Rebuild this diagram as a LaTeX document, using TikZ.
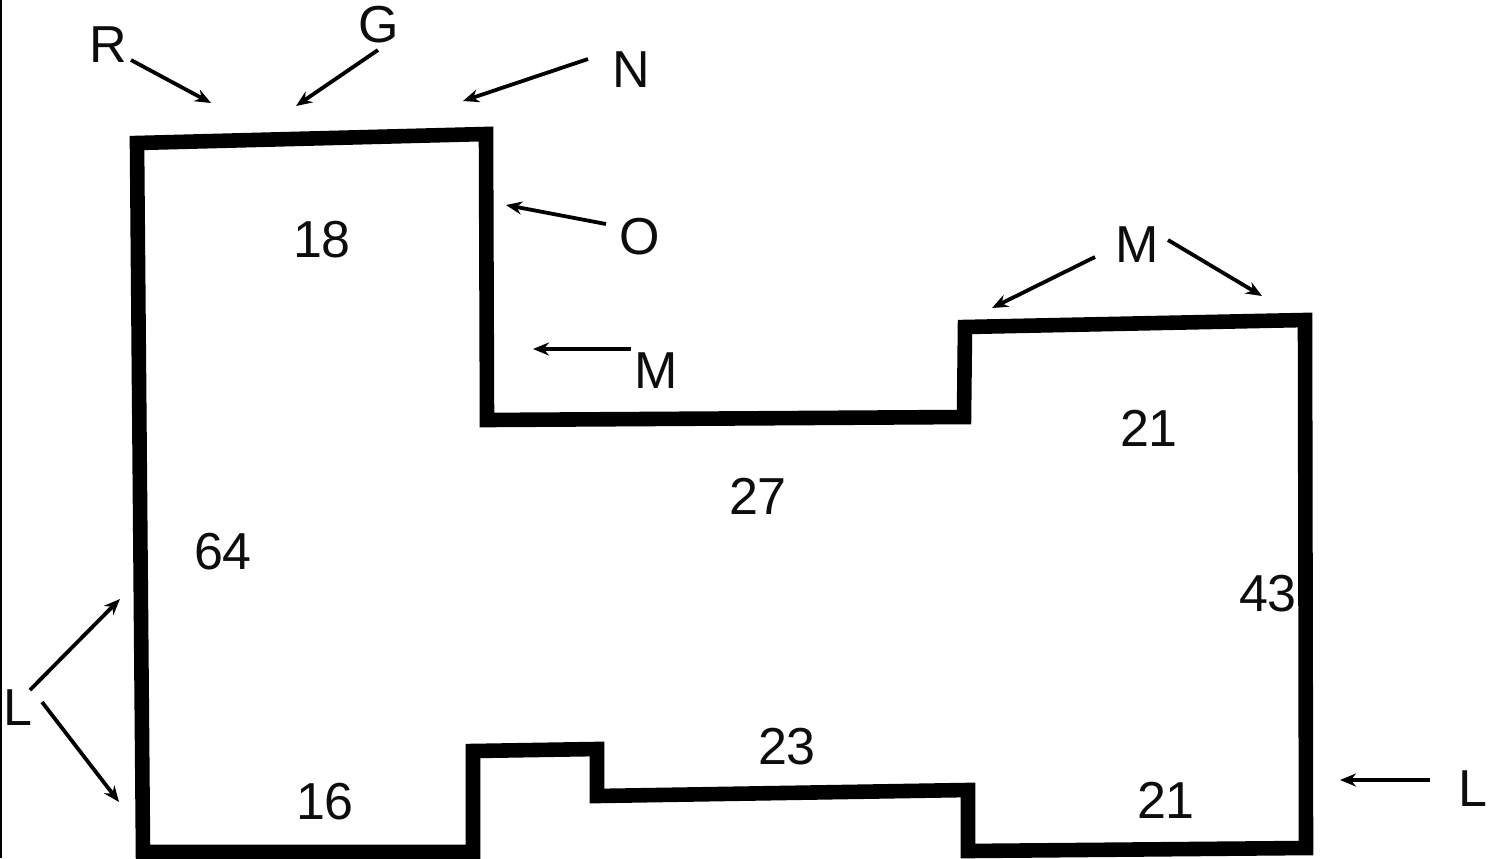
\documentclass[tikz,border=0pt]{standalone}
\usepackage{fontspec}
\setmainfont[FakeStretch=1.0]{Liberation Sans}
\usetikzlibrary{arrows.meta}
\tikzset{
  wall/.style={line width=7.3pt,line join=miter,miter limit=10},
  pointer/.style={line width=1.9pt,-{Stealth[length=8pt,width=6.5pt]}},
  lab/.style={font=\fontsize{26}{30}\selectfont,inner sep=0pt,text=black!95}
}
\begin{document}
\begin{tikzpicture}[x=0.5pt,y=-0.5pt]
\useasboundingbox (0,0) rectangle (1496,858);
\fill[white] (0,0) rectangle (1496,858);
\fill[black] (0,0) rectangle (2,858);
\draw[wall] (137,143) -- (486,134) -- (487,420) -- (964,417) -- (965,327) -- (1305,320) -- (1306,848) -- (968,851) -- (968,790) -- (597,796) -- (597,749) -- (473,751) -- (473,852) -- (143,852) -- cycle;
\node[lab] (R) at (108,45) {R};
\node[lab] (G) at (379,25) {G};
\node[lab] (N) at (631,70) {N};
\node[lab] (O) at (640,237) {O};
\node[lab] (M1) at (656,371) {M};
\node[lab] (M2) at (1137,245) {M};
\node[lab] (L1) at (18,708) {L};
\node[lab] (L2) at (1473,789) {L};
\node[lab] (a18) at (322,240) {18};
\node[lab] (a64) at (223,552) {64};
\node[lab] (a27) at (758,496) {27};
\node[lab] (a21) at (1149,428) {21};
\node[lab] (a43) at (1268,594) {43};
\node[lab] (a16) at (325,802) {16};
\node[lab] (a23) at (787,747) {23};
\node[lab] (b21) at (1166,800) {21};
\coordinate (r0) at (131,60); \coordinate (r1) at (211,103);
\coordinate (g0) at (378,50); \coordinate (g1) at (296,106);
\coordinate (n0) at (588,59); \coordinate (n1) at (463,101);
\coordinate (o0) at (606,224); \coordinate (o1) at (506,205);
\coordinate (m0) at (631,349); \coordinate (m1) at (533,349);
\coordinate (p0) at (1095,257); \coordinate (p1) at (992,308);
\coordinate (q0) at (1168,240); \coordinate (q1) at (1262,296);
\coordinate (s0) at (30,690); \coordinate (s1) at (120,599);
\coordinate (t0) at (42,702); \coordinate (t1) at (119,802);
\coordinate (u0) at (1430,780); \coordinate (u1) at (1340,780);
\foreach \a/\b in {r0/r1,g0/g1,n0/n1,o0/o1,m0/m1,p0/p1,q0/q1,s0/s1,t0/t1,u0/u1}
  \draw[pointer] (\a) -- (\b);
\end{tikzpicture}
\end{document}
